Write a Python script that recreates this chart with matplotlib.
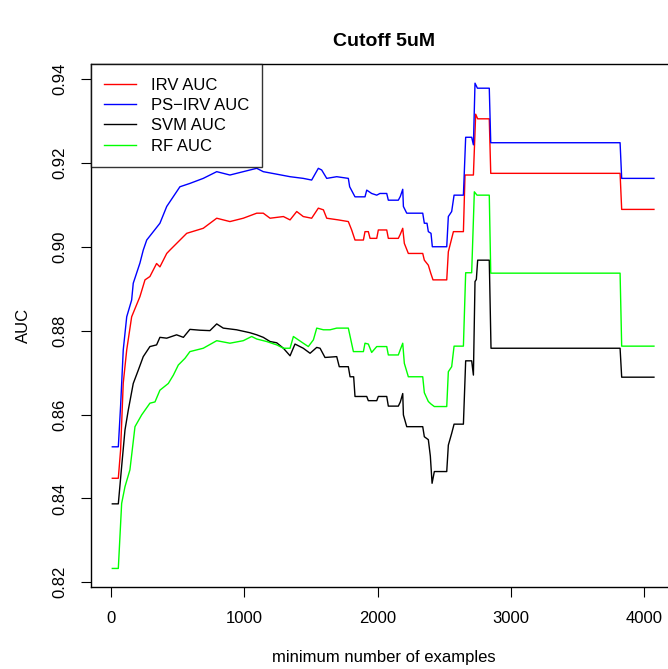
import matplotlib
matplotlib.use('Agg')
import matplotlib.pyplot as plt

plt.rcParams['font.family'] = ['Liberation Sans', 'DejaVu Sans']

# AUC vs minimum number of examples
irv_x = [10, 55, 72, 92, 118, 155, 217, 255, 292, 342, 367, 418, 442, 568, 692, 793, 892, 992,
         1093, 1142, 1193, 1293, 1343, 1393, 1442, 1505, 1555, 1593, 1618, 1705, 1780, 1805, 1830,
         1893, 1905, 1930, 1943, 1993, 2005, 2068, 2080, 2155, 2170, 2188, 2200, 2230, 2338, 2350,
         2380, 2398, 2415, 2518, 2530, 2568, 2643, 2655, 2705, 2718, 2735, 2750, 2837, 2848, 3818,
         3830, 4072]
irv_y = [0.8448, 0.8448, 0.8515, 0.8675, 0.8754, 0.8833, 0.8881, 0.8921, 0.8929, 0.8960, 0.8952,
         0.8984, 0.8992, 0.9032, 0.9044, 0.9068, 0.9060, 0.9068, 0.9080, 0.9080, 0.9068, 0.9072,
         0.9064, 0.9084, 0.9072, 0.9068, 0.9092, 0.9088, 0.9068, 0.9064, 0.9060, 0.9040, 0.9016,
         0.9016, 0.9036, 0.9036, 0.9020, 0.9020, 0.9040, 0.9040, 0.9020, 0.9020, 0.9030, 0.9044,
         0.9008, 0.8984, 0.8984, 0.8968, 0.8956, 0.8937, 0.8921, 0.8921, 0.8988, 0.9036, 0.9036,
         0.9171, 0.9171, 0.9171, 0.9316, 0.9305, 0.9305, 0.9175, 0.9175, 0.9089, 0.9089]

psirv_x = [10, 55, 72, 92, 118, 155, 167, 217, 242, 268, 367, 418, 517, 592, 692, 793, 892, 992,
           1093, 1142, 1243, 1343, 1442, 1505, 1555, 1580, 1618, 1693, 1780, 1790, 1830, 1905, 1918,
           1955, 1993, 2017, 2068, 2080, 2155, 2170, 2188, 2193, 2218, 2338, 2350, 2370, 2380, 2400,
           2410, 2518, 2530, 2555, 2573, 2643, 2660, 2705, 2718, 2730, 2748, 2837, 2848, 3818, 3830,
           4072]
psirv_y = [0.8523, 0.8523, 0.8620, 0.8754, 0.8833, 0.8873, 0.8913, 0.8961, 0.8992, 0.9016, 0.9056,
           0.9096, 0.9143, 0.9151, 0.9163, 0.9179, 0.9171, 0.9179, 0.9187, 0.9179, 0.9173, 0.9167,
           0.9163, 0.9159, 0.9187, 0.9183, 0.9163, 0.9167, 0.9163, 0.9143, 0.9119, 0.9119, 0.9135,
           0.9127, 0.9123, 0.9127, 0.9127, 0.9111, 0.9111, 0.9120, 0.9137, 0.9096, 0.9080, 0.9080,
           0.9056, 0.9056, 0.9036, 0.9032, 0.9000, 0.9000, 0.9072, 0.9084, 0.9123, 0.9123, 0.9261,
           0.9261, 0.9243, 0.9390, 0.9378, 0.9378, 0.9248, 0.9248, 0.9163, 0.9163]

svm_x = [10, 55, 80, 105, 130, 167, 205, 242, 292, 342, 367, 418, 492, 543, 592, 667, 742, 793, 842,
         942, 1042, 1093, 1142, 1193, 1243, 1293, 1343, 1380, 1442, 1493, 1543, 1568, 1605, 1693,
         1712, 1780, 1793, 1820, 1830, 1918, 1930, 1993, 2005, 2068, 2080, 2155, 2170, 2188, 2193,
         2218, 2338, 2350, 2380, 2395, 2408, 2425, 2518, 2530, 2555, 2573, 2643, 2660, 2705, 2718,
         2730, 2740, 2750, 2837, 2850, 3818, 3830, 4072]
svm_y = [0.8387, 0.8387, 0.8476, 0.8563, 0.8611, 0.8674, 0.8706, 0.8738, 0.8762, 0.8766, 0.8784,
         0.8782, 0.8790, 0.8784, 0.8803, 0.8801, 0.8800, 0.8816, 0.8806, 0.8802, 0.8795, 0.8790,
         0.8784, 0.8774, 0.8771, 0.8758, 0.8740, 0.8768, 0.8758, 0.8746, 0.8760, 0.8758, 0.8736,
         0.8738, 0.8714, 0.8714, 0.8690, 0.8690, 0.8643, 0.8643, 0.8633, 0.8633, 0.8643, 0.8643,
         0.8620, 0.8620, 0.8630, 0.8650, 0.8599, 0.8571, 0.8571, 0.8547, 0.8540, 0.8501, 0.8436,
         0.8464, 0.8464, 0.8527, 0.8555, 0.8577, 0.8577, 0.8728, 0.8728, 0.8694, 0.8917, 0.8922,
         0.8968, 0.8968, 0.8758, 0.8758, 0.8689, 0.8689]

rf_x = [10, 55, 80, 105, 142, 180, 230, 292, 330, 367, 430, 468, 505, 555, 592, 692, 793, 892, 992,
        1055, 1093, 1168, 1243, 1293, 1343, 1368, 1405, 1442, 1480, 1518, 1543, 1593, 1643, 1693,
        1780, 1818, 1893, 1905, 1930, 1955, 1993, 2068, 2080, 2155, 2170, 2188, 2200, 2230, 2338,
        2350, 2380, 2400, 2425, 2518, 2530, 2555, 2573, 2643, 2660, 2705, 2725, 2745, 2837, 2848,
        3818, 3830, 4072]
rf_y = [0.8233, 0.8233, 0.8388, 0.8428, 0.8468, 0.8571, 0.8599, 0.8627, 0.8630, 0.8658, 0.8674,
        0.8694, 0.8718, 0.8734, 0.8750, 0.8758, 0.8776, 0.8770, 0.8776, 0.8786, 0.8780, 0.8774,
        0.8766, 0.8758, 0.8758, 0.8786, 0.8778, 0.8770, 0.8762, 0.8778, 0.8806, 0.8802, 0.8802,
        0.8806, 0.8806, 0.8750, 0.8750, 0.8770, 0.8768, 0.8748, 0.8762, 0.8762, 0.8742, 0.8742,
        0.8755, 0.8770, 0.8722, 0.8690, 0.8690, 0.8652, 0.8631, 0.8625, 0.8619, 0.8619, 0.8702,
        0.8714, 0.8763, 0.8763, 0.8938, 0.8938, 0.9131, 0.9123, 0.9123, 0.8937, 0.8937, 0.8763,
        0.8763]

x_ticks = [0, 1000, 2000, 3000, 4000]
y_ticks = [0.82, 0.84, 0.86, 0.88, 0.90, 0.92, 0.94]

fig = plt.figure(figsize=(6.68, 6.69), dpi=100)
ax = fig.add_axes([0.1358, 0.1221, 0.8777, 0.7818])

ax.plot(irv_x, irv_y, color='#ff0000', lw=1.0, label='IRV AUC')
ax.plot(psirv_x, psirv_y, color='#0000ff', lw=1.0, label='PS\u2212IRV AUC')
ax.plot(svm_x, svm_y, color='black', lw=1.0, label='SVM AUC')
ax.plot(rf_x, rf_y, color='#00ff00', lw=1.0, label='RF AUC')

ax.set_xlim(-152, 4245)
ax.set_ylim(0.8188, 0.9435)
ax.set_xticks(x_ticks)
ax.set_xticklabels([str(v) for v in x_ticks])
ax.set_yticks(y_ticks)
ax.set_yticklabels(['%.2f' % v for v in y_ticks], rotation=90, va='center')
ax.tick_params(direction='out', length=7, width=0.8, labelsize=12, pad=10)
for s in ax.spines.values():
    s.set_linewidth(1.0)

ax.set_xlabel('minimum number of examples', fontsize=12, labelpad=17)
ax.set_ylabel('AUC', fontsize=12, labelpad=15)
fig.text(0.5747, 1 - 42 / 669, 'Cutoff 5uM', fontsize=14, fontweight='bold',
         ha='center', va='center')

leg = ax.legend(loc='upper left', bbox_to_anchor=(0, 1), borderaxespad=0, fancybox=False,
                edgecolor='black', fontsize=12, handlelength=1.9, handletextpad=0.9,
                labelspacing=0.32, borderpad=0.8)
leg.get_frame().set_linewidth(1.0)

plt.savefig('out.png')
